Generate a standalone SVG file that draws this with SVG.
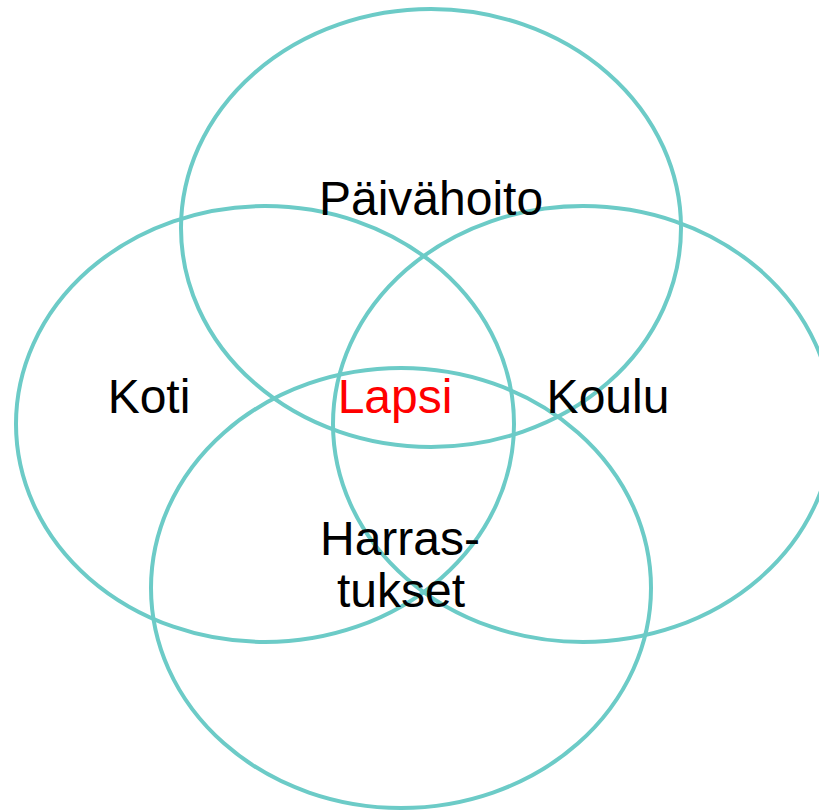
<svg xmlns="http://www.w3.org/2000/svg" width="819" height="811" viewBox="0 0 819 811">
<style>
.c{fill:none;stroke:#6ccbc7;stroke-width:4}
.t{font-family:"Liberation Sans",Arial,sans-serif;font-size:48px;fill:#000;text-anchor:middle}
.r{fill:#ff0000}
</style>
<rect width="819" height="811" fill="#fff"/>
<g id="paivahoito"><ellipse class="c" cx="431" cy="228" rx="250" ry="219"/></g>
<g id="koti"><ellipse class="c" cx="265" cy="424" rx="249" ry="218"/></g>
<g id="koulu"><ellipse class="c" cx="583" cy="424" rx="250" ry="218"/></g>
<g id="harrastukset"><ellipse class="c" cx="401" cy="588" rx="250" ry="220"/></g>
<g id="labels">
<text class="t" x="431" y="215">Päivähoito</text>
<text class="t" x="149" y="413">Koti</text>
<text class="t r" x="395" y="413">Lapsi</text>
<text class="t" x="608" y="413">Koulu</text>
<text class="t" x="400" y="555">Harras-</text>
<text class="t" x="401" y="607">tukset</text>
</g>
</svg>
